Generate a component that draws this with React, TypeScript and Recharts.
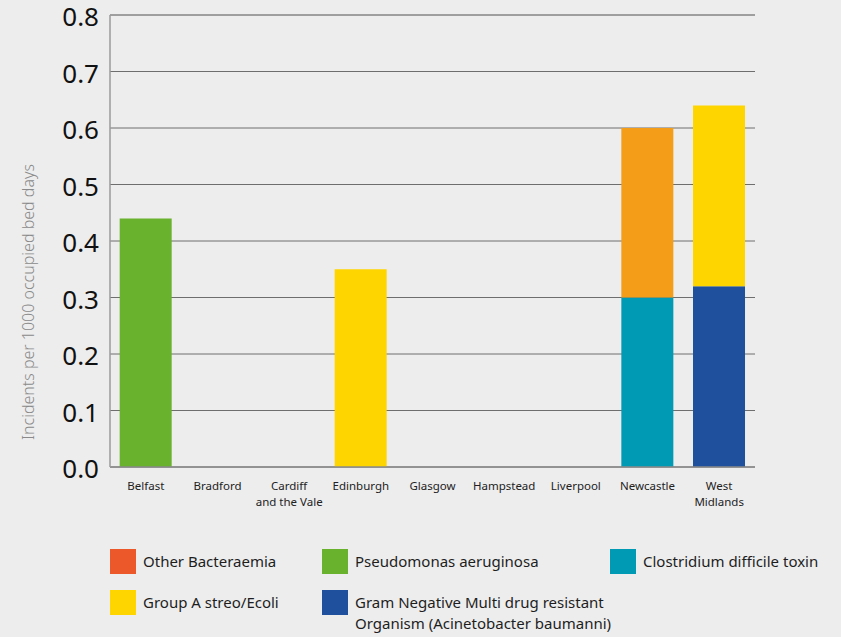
import React from 'react'
import { BarChart, Bar, XAxis, YAxis, CartesianGrid, ReferenceLine } from 'recharts'

const sites = [
  'Belfast',
  'Bradford',
  'Cardiff\nand the Vale',
  'Edinburgh',
  'Glasgow',
  'Hampstead',
  'Liverpool',
  'Newcastle',
  'West\nMidlands',
]

const pseudomonas = [0.44, 0, 0, 0, 0, 0, 0, 0, 0]
const clostridium = [0, 0, 0, 0, 0, 0, 0, 0.3, 0]
const gramNegative = [0, 0, 0, 0, 0, 0, 0, 0, 0.32]
const groupA = [0, 0, 0, 0.35, 0, 0, 0, 0, 0.32]
const otherBacteraemia = [0, 0, 0, 0, 0, 0, 0, 0.3, 0]

const yTicks = [0, 0.1, 0.2, 0.3, 0.4, 0.5, 0.6, 0.7, 0.8]

const FONT = '"Noto Sans", "Open Sans", sans-serif'

const COLORS = {
  pseudomonas: '#69B22E',
  clostridium: '#009AB4',
  gramNegative: '#1F509D',
  groupA: '#FFD500',
  otherBar: '#F49D19',
  otherSwatch: '#EC582A',
}

const chartData = sites.map((site, i) => ({
  site,
  pseudomonas: pseudomonas[i],
  clostridium: clostridium[i],
  gramNegative: gramNegative[i],
  groupA: groupA[i],
  otherBacteraemia: otherBacteraemia[i],
}))

const SiteTick = ({ x, y, payload }: any) => {
  const lines = String(payload.value).split('\n')
  return (
    <text x={x} y={y} textAnchor="middle" fontFamily={FONT} fontSize={11.5} fill="#222">
      {lines.map((line, i) => (
        <tspan key={i} x={x} dy={i === 0 ? 15 : 16}>
          {line}
        </tspan>
      ))}
    </text>
  )
}

// value labels sit a touch below their gridline
const ValueTick = ({ x, y, payload }: any) => (
  <text x={x - 11} y={y + 11} textAnchor="end" fontFamily={FONT} fontSize={26} fill="#111">
    {Number(payload.value).toFixed(1)}
  </text>
)

const legendItems = [
  { label: 'Other Bacteraemia', color: COLORS.otherSwatch, left: 110, top: 549 },
  { label: 'Pseudomonas aeruginosa', color: COLORS.pseudomonas, left: 322, top: 549 },
  { label: 'Clostridium difficile toxin', color: COLORS.clostridium, left: 610, top: 549 },
  { label: 'Group A streo/Ecoli', color: COLORS.groupA, left: 110, top: 590 },
  {
    label: 'Gram Negative Multi drug resistant\nOrganism (Acinetobacter baumanni)',
    color: COLORS.gramNegative,
    left: 322,
    top: 590,
  },
]

export default function App() {
  return (
    <div
      style={{
        position: 'absolute',
        top: 0,
        left: 0,
        width: 841,
        height: 637,
        background: '#EDEDED',
        fontFamily: FONT,
        overflow: 'hidden',
      }}
    >
      {/* chart sits 20px above the page edge so the top tick label has room */}
      <div style={{ position: 'absolute', top: -20, left: 0 }}>
        <BarChart
          width={841}
          height={540}
          data={chartData}
          margin={{ top: 35, right: 86, left: 0, bottom: 0 }}
          barCategoryGap="13.5%"
        >
          <CartesianGrid vertical={false} stroke="#6E6E6E" strokeWidth={1} />
          <XAxis
            dataKey="site"
            interval={0}
            height={53}
            tick={<SiteTick />}
            tickLine={false}
            axisLine={{ stroke: '#8A8A8A', strokeWidth: 1.5 }}
          />
          <YAxis
            width={110}
            domain={[0, 0.8]}
            ticks={yTicks}
            tick={<ValueTick />}
            tickLine={false}
            tickSize={0}
            tickMargin={0}
            axisLine={{ stroke: '#9A9A9A', strokeWidth: 1.5 }}
          />
          <ReferenceLine y={0.8} stroke="#9A9A9A" strokeWidth={1.5} />
          <Bar dataKey="pseudomonas" stackId="a" fill={COLORS.pseudomonas} isAnimationActive={false} />
          <Bar dataKey="clostridium" stackId="a" fill={COLORS.clostridium} isAnimationActive={false} />
          <Bar dataKey="gramNegative" stackId="a" fill={COLORS.gramNegative} isAnimationActive={false} />
          <Bar dataKey="groupA" stackId="a" fill={COLORS.groupA} isAnimationActive={false} />
          <Bar dataKey="otherBacteraemia" stackId="a" fill={COLORS.otherBar} isAnimationActive={false} />
        </BarChart>
      </div>

      <div
        style={{
          position: 'absolute',
          left: 28,
          top: 302,
          transform: 'translate(-50%, -50%) rotate(-90deg)',
          whiteSpace: 'nowrap',
          fontSize: 16,
          fontWeight: 300,
          color: '#8A8A8A',
        }}
      >
        Incidents per 1000 occupied bed days
      </div>

      {legendItems.map((item) => (
        <div
          key={item.label}
          style={{ position: 'absolute', left: item.left, top: item.top, display: 'flex' }}
        >
          <div style={{ width: 26, height: 25, background: item.color, flexShrink: 0 }} />
          <div
            style={{
              marginLeft: 7,
              fontSize: 15,
              lineHeight: '21px',
              marginTop: 2,
              color: '#1E1E1E',
              whiteSpace: 'pre',
            }}
          >
            {item.label}
          </div>
        </div>
      ))}
    </div>
  )
}
